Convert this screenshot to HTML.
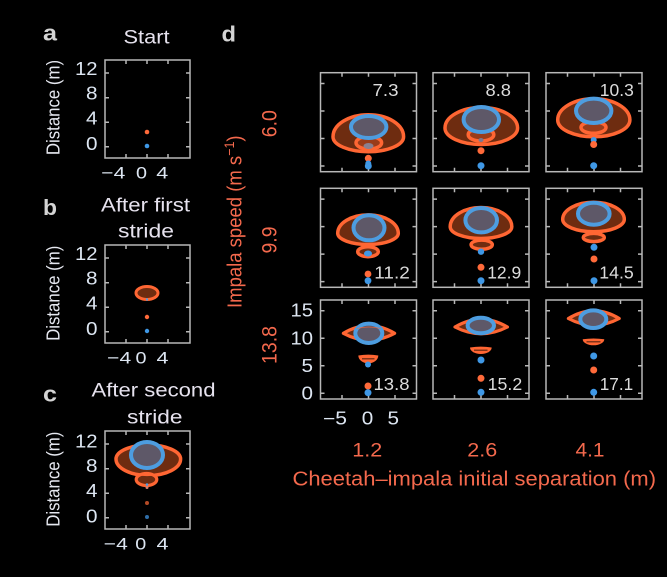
<!DOCTYPE html>
<html><head><meta charset="utf-8"><style>
html,body{margin:0;padding:0;background:#000;}
svg{display:block;}
text{font-family:"Liberation Sans",Arial,sans-serif;}
</style></head><body>
<svg width="667" height="577" viewBox="0 0 667 577" xmlns="http://www.w3.org/2000/svg">
<rect width="667" height="577" fill="#000"/>

<!-- Panel labels -->
<g fill="#d4d4d4" font-weight="bold" font-size="22">
<text x="43" y="40.7" textLength="14" lengthAdjust="spacingAndGlyphs">a</text>
<text x="43" y="215" textLength="14" lengthAdjust="spacingAndGlyphs">b</text>
<text x="43" y="401.7" textLength="14" lengthAdjust="spacingAndGlyphs">c</text>
<text x="221.5" y="41.7" textLength="14.5" lengthAdjust="spacingAndGlyphs">d</text>
</g>

<!-- Titles -->
<g fill="#e6e2ee" font-size="19.5">
<text x="123.5" y="43.3" textLength="46" lengthAdjust="spacingAndGlyphs">Start</text>
<text x="101" y="211.7" textLength="89" lengthAdjust="spacingAndGlyphs">After first</text>
<text x="118" y="237.3" textLength="56" lengthAdjust="spacingAndGlyphs">stride</text>
<text x="91.5" y="396.7" textLength="124" lengthAdjust="spacingAndGlyphs">After second</text>
<text x="127" y="423.3" textLength="55.5" lengthAdjust="spacingAndGlyphs">stride</text>
</g>

<!-- Distance labels -->
<g fill="#e6e8f0" font-size="16.8" text-anchor="middle">
<text transform="translate(59.5,107.5) rotate(-90) scale(1,1.12)">Distance (m)</text>
<text transform="translate(59.5,293.3) rotate(-90) scale(1,1.12)">Distance (m)</text>
<text transform="translate(59.5,479.2) rotate(-90) scale(1,1.12)">Distance (m)</text>
</g>

<!-- a-c frames -->
<g fill="none" stroke="#b8b8b8" stroke-width="1.5">
<rect x="105" y="60" width="85" height="98"/>
<rect x="105" y="245" width="85" height="98"/>
<rect x="105" y="431" width="85" height="98"/>
<path d="M126,60v4M147,60v4M168,60v4M126,158v-4M147,158v-4M168,158v-4M105,73h4M105,97.7h4M105,122.3h4M105,146.7h4M190,73h-4M190,97.7h-4M190,122.3h-4M190,146.7h-4"/>
<path d="M126,245v4M147,245v4M168,245v4M126,343v-4M147,343v-4M168,343v-4M105,258h4M105,282.7h4M105,307.3h4M105,331.7h4M190,258h-4M190,282.7h-4M190,307.3h-4M190,331.7h-4"/>
<path d="M126,431v4M147,431v4M168,431v4M126,529v-4M147,529v-4M168,529v-4M105,444h4M105,468.7h4M105,493.3h4M105,517.7h4M190,444h-4M190,468.7h-4M190,493.3h-4M190,517.7h-4"/>
</g>

<!-- a-c tick labels -->
<g fill="#dde6f2" font-size="18" text-anchor="end">
<text x="97.5" y="75" textLength="22.5" lengthAdjust="spacingAndGlyphs">12</text>
<text x="97.5" y="99.5" textLength="11.5" lengthAdjust="spacingAndGlyphs">8</text>
<text x="97.5" y="124.5" textLength="11.5" lengthAdjust="spacingAndGlyphs">4</text>
<text x="97.5" y="150" textLength="11.5" lengthAdjust="spacingAndGlyphs">0</text>
<text x="97.5" y="260" textLength="22.5" lengthAdjust="spacingAndGlyphs">12</text>
<text x="97.5" y="284.5" textLength="11.5" lengthAdjust="spacingAndGlyphs">8</text>
<text x="97.5" y="309.5" textLength="11.5" lengthAdjust="spacingAndGlyphs">4</text>
<text x="97.5" y="335" textLength="11.5" lengthAdjust="spacingAndGlyphs">0</text>
<text x="97.5" y="447.5" textLength="22.5" lengthAdjust="spacingAndGlyphs">12</text>
<text x="97.5" y="472" textLength="11.5" lengthAdjust="spacingAndGlyphs">8</text>
<text x="97.5" y="497" textLength="11.5" lengthAdjust="spacingAndGlyphs">4</text>
<text x="97.5" y="522.5" textLength="11.5" lengthAdjust="spacingAndGlyphs">0</text>
</g>
<g fill="#dde6f2" font-size="17" text-anchor="middle">
<text x="113.3" y="178.3" textLength="24" lengthAdjust="spacingAndGlyphs">−4</text>
<text x="141.5" y="178.3" textLength="11" lengthAdjust="spacingAndGlyphs">0</text>
<text x="162.3" y="178.3" textLength="12" lengthAdjust="spacingAndGlyphs">4</text>
<text x="119.2" y="363.3" textLength="24" lengthAdjust="spacingAndGlyphs">−4</text>
<text x="141" y="363.3" textLength="11" lengthAdjust="spacingAndGlyphs">0</text>
<text x="162.5" y="363.3" textLength="12" lengthAdjust="spacingAndGlyphs">4</text>
<text x="115.8" y="549.3" textLength="24" lengthAdjust="spacingAndGlyphs">−4</text>
<text x="140.8" y="549.3" textLength="11" lengthAdjust="spacingAndGlyphs">0</text>
<text x="162.5" y="549.3" textLength="12" lengthAdjust="spacingAndGlyphs">4</text>
</g>

<!-- Panel a content -->
<circle cx="147" cy="132" r="2.3" fill="#ff6a3a"/>
<circle cx="147" cy="146" r="2.3" fill="#3f98e6"/>

<!-- Panel b content -->
<ellipse cx="147" cy="293" rx="11" ry="6.5" fill="#6e2c10" stroke="#ff6633" stroke-width="3"/>
<circle cx="147" cy="299.5" r="1.2" fill="#4d9de0"/>
<circle cx="147" cy="317" r="2.2" fill="#ff6a3a"/>
<circle cx="147" cy="331" r="2.2" fill="#3f98e6"/>

<!-- Panel c content -->
<path d="M116,459 A32.3,14 0 0 1 180.6,459 A32.3,16.5 0 0 1 116,459Z" fill="#6e2c10" stroke="#ff6633" stroke-width="3.5"/>
<ellipse cx="146.5" cy="479.5" rx="10.3" ry="6" fill="#6e2c10" stroke="#ff6633" stroke-width="3.2"/>
<path d="M138,474.3 Q147,476 156,474.3" fill="none" stroke="#ff6633" stroke-width="2"/>
<ellipse cx="147" cy="455" rx="16" ry="13" fill="#5e5868" stroke="#4d9de0" stroke-width="4"/>
<circle cx="147" cy="484.5" r="1.3" fill="#4d9de0"/>
<circle cx="147" cy="487.5" r="1.5" fill="#d88070"/>
<circle cx="147" cy="503" r="2" fill="#b34a26"/>
<circle cx="147" cy="517" r="2" fill="#2f6ea8"/>

<!-- Panel d frames -->
<g fill="none" stroke="#b8b8b8" stroke-width="1.5">
<rect x="320.5" y="72.7" width="96" height="99"/>
<rect x="433" y="72.7" width="96" height="99"/>
<rect x="546" y="72.7" width="96" height="99"/>
<rect x="320.5" y="188.3" width="96" height="99"/>
<rect x="433" y="188.3" width="96" height="99"/>
<rect x="546" y="188.3" width="96" height="99"/>
<rect x="320.5" y="300" width="96" height="99"/>
<rect x="433" y="300" width="96" height="99"/>
<rect x="546" y="300" width="96" height="99"/>
<path d="M342,72.7v4M368.5,72.7v4M395,72.7v4M342,171.7v-4M368.5,171.7v-4M395,171.7v-4M320.5,83.5h4M320.5,111h4M320.5,138.5h4M320.5,166h4M416.5,83.5h-4M416.5,111h-4M416.5,138.5h-4M416.5,166h-4"/>
<path d="M454.5,72.7v4M481,72.7v4M507.5,72.7v4M454.5,171.7v-4M481,171.7v-4M507.5,171.7v-4M433,83.5h4M433,111h4M433,138.5h4M433,166h4M529,83.5h-4M529,111h-4M529,138.5h-4M529,166h-4"/>
<path d="M567.5,72.7v4M594,72.7v4M620.5,72.7v4M567.5,171.7v-4M594,171.7v-4M620.5,171.7v-4M546,83.5h4M546,111h4M546,138.5h4M546,166h4M642,83.5h-4M642,111h-4M642,138.5h-4M642,166h-4"/>
<path d="M342,188.3v4M368.5,188.3v4M395,188.3v4M342,287.3v-4M368.5,287.3v-4M395,287.3v-4M320.5,199.1h4M320.5,226.6h4M320.5,254.1h4M320.5,281.6h4M416.5,199.1h-4M416.5,226.6h-4M416.5,254.1h-4M416.5,281.6h-4"/>
<path d="M454.5,188.3v4M481,188.3v4M507.5,188.3v4M454.5,287.3v-4M481,287.3v-4M507.5,287.3v-4M433,199.1h4M433,226.6h4M433,254.1h4M433,281.6h4M529,199.1h-4M529,226.6h-4M529,254.1h-4M529,281.6h-4"/>
<path d="M567.5,188.3v4M594,188.3v4M620.5,188.3v4M567.5,287.3v-4M594,287.3v-4M620.5,287.3v-4M546,199.1h4M546,226.6h4M546,254.1h4M546,281.6h4M642,199.1h-4M642,226.6h-4M642,254.1h-4M642,281.6h-4"/>
<path d="M342,300v4M368.5,300v4M395,300v4M342,399v-4M368.5,399v-4M395,399v-4M320.5,310.8h4M320.5,338.3h4M320.5,365.8h4M320.5,393.3h4M416.5,310.8h-4M416.5,338.3h-4M416.5,365.8h-4M416.5,393.3h-4"/>
<path d="M454.5,300v4M481,300v4M507.5,300v4M454.5,399v-4M481,399v-4M507.5,399v-4M433,310.8h4M433,338.3h4M433,365.8h4M433,393.3h4M529,310.8h-4M529,338.3h-4M529,365.8h-4M529,393.3h-4"/>
<path d="M567.5,300v4M594,300v4M620.5,300v4M567.5,399v-4M594,399v-4M620.5,399v-4M546,310.8h4M546,338.3h4M546,365.8h4M546,393.3h4M642,310.8h-4M642,338.3h-4M642,365.8h-4M642,393.3h-4"/>
</g>

<!-- Row 1 shapes -->
<g stroke-width="3.5">
<path d="M333,136.7 A35.3,22 0 0 1 403.6,136.7 A35.3,15 0 0 1 333,136.7Z" fill="#6e2c10" stroke="#ff6633"/>
<ellipse cx="368.8" cy="142.8" rx="12.8" ry="6.3" fill="#9a3c1a" stroke="#ff6633"/>
<ellipse cx="368.7" cy="127" rx="17.7" ry="11" fill="#5e5868" stroke="#4d9de0" stroke-width="4"/>
<path d="M445,128 A36.3,20.5 0 0 1 517.6,128 A36.3,16.5 0 0 1 445,128Z" fill="#6e2c10" stroke="#ff6633"/>
<ellipse cx="481" cy="134.7" rx="12.8" ry="6.3" fill="#9a3c1a" stroke="#ff6633"/>
<ellipse cx="481.3" cy="119.5" rx="17.7" ry="12.5" fill="#5e5868" stroke="#4d9de0" stroke-width="4"/>
<path d="M557.7,120 A36.1,21.2 0 0 1 629.9,120 A36.1,16.8 0 0 1 557.7,120Z" fill="#6e2c10" stroke="#ff6633"/>
<ellipse cx="593.5" cy="127.5" rx="12.5" ry="5.8" fill="#9a3c1a" stroke="#ff6633"/>
<ellipse cx="593.7" cy="110.8" rx="17.7" ry="12.2" fill="#5e5868" stroke="#4d9de0" stroke-width="4"/>
</g>
<ellipse cx="368.5" cy="146" rx="5" ry="3" fill="#8a8090"/>
<circle cx="368.3" cy="158.3" r="3.5" fill="#ff6a3a"/>
<circle cx="368.3" cy="163.5" r="3" fill="#3f98e6"/>
<circle cx="368.3" cy="166" r="3.5" fill="#3f98e6"/>
<ellipse cx="481" cy="140" rx="2.5" ry="2" fill="#7a7890"/>
<circle cx="481" cy="150.7" r="3.5" fill="#ff6a3a"/>
<circle cx="481" cy="165.7" r="3.5" fill="#3f98e6"/>
<circle cx="593.7" cy="140" r="3" fill="#3f98e6"/>
<circle cx="593.7" cy="144.5" r="3.5" fill="#ff6a3a"/>
<circle cx="593.7" cy="165.7" r="3.5" fill="#3f98e6"/>

<!-- Row 2 shapes -->
<g stroke-width="3.5">
<path d="M337.7,233.3 A30.3,18.5 0 0 1 398.3,233.3 A30.3,11.2 0 0 1 337.7,233.3Z" fill="#6e2c10" stroke="#ff6633"/>
<ellipse cx="368" cy="251.7" rx="10.3" ry="5" fill="#6e2c10" stroke="#ff6633"/>
<ellipse cx="369" cy="227.8" rx="15.5" ry="12.5" fill="#5e5868" stroke="#4d9de0" stroke-width="4"/>
<path d="M450.2,226.7 A30.8,19.2 0 0 1 511.8,226.7 A30.8,11.8 0 0 1 450.2,226.7Z" fill="#6e2c10" stroke="#ff6633"/>
<ellipse cx="481.7" cy="244.7" rx="10.6" ry="4.6" fill="#6e2c10" stroke="#ff6633"/>
<ellipse cx="481.2" cy="220.2" rx="15.8" ry="12.2" fill="#5e5868" stroke="#4d9de0" stroke-width="4"/>
<path d="M562.7,219.3 A30.8,17.1 0 0 1 624.3,219.3 A30.8,12.5 0 0 1 562.7,219.3Z" fill="#6e2c10" stroke="#ff6633"/>
<ellipse cx="593.8" cy="237.5" rx="10.5" ry="4.1" fill="#6e2c10" stroke="#ff6633"/>
<ellipse cx="593.8" cy="213.7" rx="15.8" ry="11" fill="#5e5868" stroke="#4d9de0" stroke-width="4"/>
</g>
<ellipse cx="368" cy="253.5" rx="4" ry="3" fill="#3f98e6"/>
<circle cx="368" cy="274" r="3.4" fill="#ff6a3a"/>
<circle cx="368" cy="280.7" r="3.4" fill="#3f98e6"/>
<circle cx="481" cy="251.7" r="3.2" fill="#3f98e6"/>
<circle cx="481" cy="267.3" r="3.5" fill="#ff6a3a"/>
<circle cx="481" cy="280.7" r="3.5" fill="#3f98e6"/>
<circle cx="594" cy="247.3" r="3.5" fill="#3f98e6"/>
<circle cx="594" cy="259" r="3.5" fill="#ff6a3a"/>
<circle cx="594" cy="280.7" r="3.5" fill="#3f98e6"/>

<!-- Row 3 shapes -->
<g stroke-width="3.2">
<path d="M343.4,333.3 Q368.8,318 394.6,333.3 Q368.8,347 343.4,333.3Z" fill="#6e2c10" stroke="#ff6633" stroke-linejoin="round"/>
<ellipse cx="368.8" cy="333.3" rx="13.5" ry="9.7" fill="#5e5868" stroke="#4d9de0" stroke-width="4"/>
<path d="M455,327 Q481.2,311.5 507.4,327 Q481.2,340.5 455,327Z" fill="#6e2c10" stroke="#ff6633" stroke-linejoin="round"/>
<ellipse cx="480.8" cy="325.5" rx="13.2" ry="7.7" fill="#5e5868" stroke="#4d9de0" stroke-width="4"/>
<path d="M568.4,318.5 Q593.8,303 619.2,318.5 Q593.8,332 568.4,318.5Z" fill="#6e2c10" stroke="#ff6633" stroke-linejoin="round"/>
<ellipse cx="593.3" cy="319.2" rx="13" ry="8.8" fill="#5e5868" stroke="#4d9de0" stroke-width="4"/>
</g>
<g stroke="#ff6633" stroke-width="0.8" stroke-opacity="0.8" fill="none">
<path d="M357,328.5 Q368.8,325.5 380.6,328.5"/>
</g>
<g fill="#ff6633">
<path d="M358.3,355.5 Q368.3,353.8 378.3,355.5 A10,7.8 0 0 1 358.3,355.5Z"/>
<path d="M470,347.5 Q480.8,345.8 491.7,347.5 A10.85,6.5 0 0 1 470,347.5Z"/>
<path d="M582.7,339.3 Q593.5,337.6 604.3,339.3 A10.8,6 0 0 1 582.7,339.3Z"/>
</g>
<g stroke="#5a2410" stroke-width="1.2">
<path d="M362,358.8H374.5M474,350.2H487.5M586.5,341.8H600.5"/>
</g>
<circle cx="368" cy="364.5" r="3" fill="#3f98e6"/>
<circle cx="368" cy="386" r="3.5" fill="#ff6a3a"/>
<circle cx="368" cy="392.7" r="3.5" fill="#3f98e6"/>
<circle cx="481" cy="360" r="3.5" fill="#3f98e6"/>
<circle cx="481" cy="378.3" r="3.5" fill="#ff6a3a"/>
<circle cx="481" cy="392.3" r="3.5" fill="#3f98e6"/>
<circle cx="593.7" cy="356" r="3.5" fill="#3f98e6"/>
<circle cx="593.7" cy="370" r="3.5" fill="#ff6a3a"/>
<circle cx="593.7" cy="392.3" r="3.5" fill="#3f98e6"/>

<!-- Box numbers -->
<g fill="#dcdcdc" font-size="17.5" text-anchor="end">
<text x="398.5" y="96" textLength="26" lengthAdjust="spacingAndGlyphs">7.3</text>
<text x="511" y="96" textLength="25.5" lengthAdjust="spacingAndGlyphs">8.8</text>
<text x="633.8" y="96" textLength="34" lengthAdjust="spacingAndGlyphs">10.3</text>
<text x="409.8" y="278.3" textLength="35.5" lengthAdjust="spacingAndGlyphs">11.2</text>
<text x="521.2" y="278.3" textLength="34" lengthAdjust="spacingAndGlyphs">12.9</text>
<text x="633.8" y="278.3" textLength="34.5" lengthAdjust="spacingAndGlyphs">14.5</text>
<text x="409.5" y="390" textLength="36" lengthAdjust="spacingAndGlyphs">13.8</text>
<text x="522.2" y="390" textLength="34.5" lengthAdjust="spacingAndGlyphs">15.2</text>
<text x="633.2" y="390" textLength="33.5" lengthAdjust="spacingAndGlyphs">17.1</text>
</g>

<!-- d tick labels -->
<g fill="#dde6f2" font-size="18.5" text-anchor="end">
<text x="313" y="316.7" textLength="22.5" lengthAdjust="spacingAndGlyphs">15</text>
<text x="313" y="344.3" textLength="22.5" lengthAdjust="spacingAndGlyphs">10</text>
<text x="313" y="372" textLength="11.5" lengthAdjust="spacingAndGlyphs">5</text>
<text x="313" y="399.3" textLength="11.5" lengthAdjust="spacingAndGlyphs">0</text>
</g>
<g fill="#dde6f2" font-size="18" text-anchor="middle">
<text x="335" y="424.3" textLength="24" lengthAdjust="spacingAndGlyphs">−5</text>
<text x="367.5" y="424.3" textLength="11.5" lengthAdjust="spacingAndGlyphs">0</text>
<text x="393.3" y="424.3" textLength="11.5" lengthAdjust="spacingAndGlyphs">5</text>
</g>

<!-- d red labels -->
<g fill="#f4694d" font-size="19.5" text-anchor="middle">
<text x="367.3" y="456.7" textLength="30" lengthAdjust="spacingAndGlyphs">1.2</text>
<text x="482.3" y="456.7" textLength="30" lengthAdjust="spacingAndGlyphs">2.6</text>
<text x="590" y="456.7" textLength="29" lengthAdjust="spacingAndGlyphs">4.1</text>
<text transform="translate(276.7,123.7) rotate(-90) scale(1,1.1)">6.0</text>
<text transform="translate(276.7,240) rotate(-90) scale(1,1.1)">9.9</text>
<text transform="translate(276.7,345) rotate(-90) scale(1,1.1)">13.8</text>
</g>
<text x="292.5" y="485.7" fill="#f4694d" font-size="20" textLength="363.5" lengthAdjust="spacingAndGlyphs">Cheetah–impala initial separation (m)</text>
<text transform="translate(241.5,221.7) rotate(-90) scale(1,1.1)" fill="#f4694d" font-size="18.5" text-anchor="middle">Impala speed (m s<tspan font-size="12.5" dy="-7">−1</tspan><tspan dy="7">)</tspan></text>
</svg>
</body></html>
